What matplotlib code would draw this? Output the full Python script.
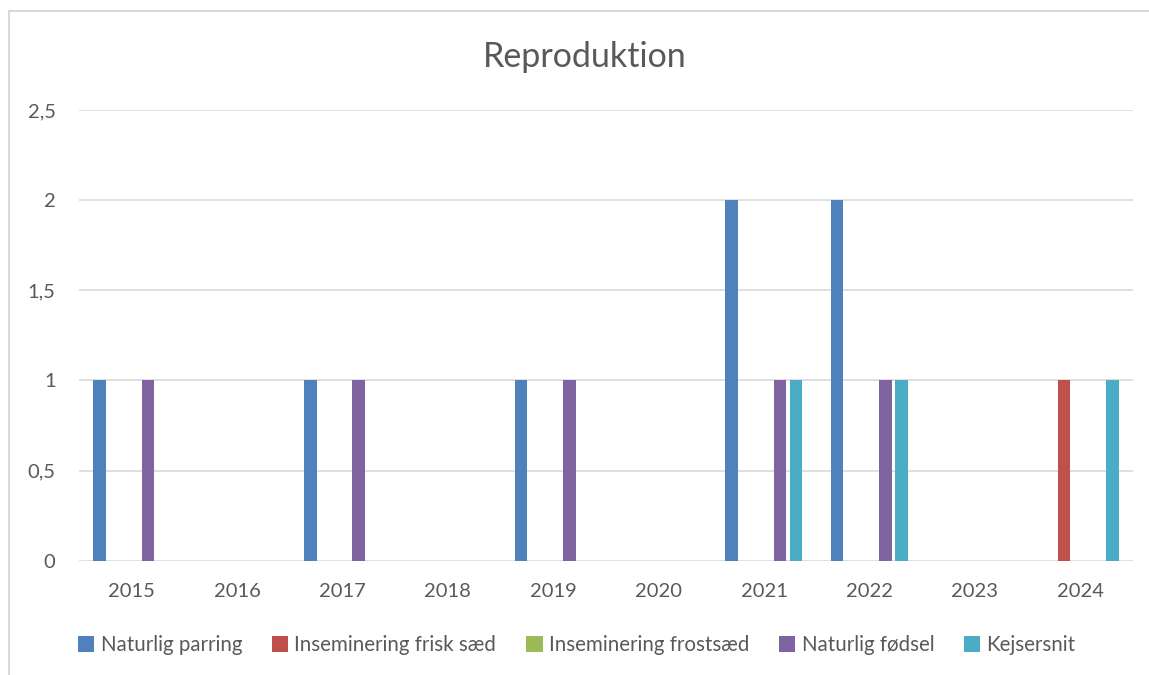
import matplotlib
matplotlib.use("Agg")
import matplotlib.pyplot as plt
from matplotlib.lines import Line2D
from matplotlib.patches import Patch
import numpy as np

plt.rcParams["font.family"] = ["Lato", "DejaVu Sans"]

# region data
aar = ["2015", "2016", "2017", "2018", "2019", "2020", "2021", "2022", "2023", "2024"]
serier = ["Naturlig parring", "Inseminering frisk sæd", "Inseminering frostsæd",
          "Naturlig fødsel", "Kejsersnit"]
naturlig_parring = [1, 0, 1, 0, 1, 0, 2, 2, 0, 0]
inseminering_frisk = [0, 0, 0, 0, 0, 0, 0, 0, 0, 1]
inseminering_frost = [0, 0, 0, 0, 0, 0, 0, 0, 0, 0]
naturlig_foedsel = [1, 0, 1, 0, 1, 0, 1, 1, 0, 0]
kejsersnit = [0, 0, 0, 0, 0, 0, 1, 1, 0, 1]
farver = ["#4F81BD", "#C0504D", "#9BBB59", "#8064A2", "#4BACC6"]
y_ticks = [0, 0.5, 1, 1.5, 2, 2.5]
y_labels = ["0", "0,5", "1", "1,5", "2", "2,5"]
# endregion

tekst = "#595959"
gitter = "#D9D9D9"

fig = plt.figure(figsize=(11.49, 6.75), dpi=100)
ax = fig.add_axes([0.0689, 0.1693, 0.9169, 0.6677])

x = np.arange(len(aar))
slot = 0.1528
bredde = 0.1205
alle = [naturlig_parring, inseminering_frisk, inseminering_frost,
        naturlig_foedsel, kejsersnit]
for k, (navn, vals, farve) in enumerate(zip(serier, alle, farver)):
    ax.bar(x + (k - 2) * slot, vals, width=bredde, color=farve, zorder=3,
           label=navn)

ax.set_xlim(-0.5, len(aar) - 0.5)
ax.set_ylim(0, 2.5)
ax.set_yticks(y_ticks)
ax.set_yticklabels(y_labels)
ax.set_xticks(x)
ax.set_xticklabels(aar)
ax.tick_params(length=0, labelsize=14.5, labelcolor=tekst)
ax.tick_params(axis="y", pad=17)
ax.tick_params(axis="x", pad=16)
ax.grid(axis="y", color=gitter, linewidth=1.2, zorder=0)
for s in ax.spines.values():
    s.set_visible(False)

fig.text(0.509, 0.915, "Reproduktion", ha="center", va="center",
         fontsize=24.5, color=tekst)

handles = [Patch(facecolor=f, edgecolor="none") for f in farver]
fig.legend(handles, serier, loc="center", bbox_to_anchor=(0.502, 0.044),
           ncol=5, frameon=False, fontsize=14.8, labelcolor=tekst,
           handlelength=0.8, handleheight=0.8, handletextpad=0.3,
           columnspacing=1.45)

# Rahmen (nur oben und links sichtbar)
fig.add_artist(Line2D([9 / 1149, 1], [1 - 11 / 675, 1 - 11 / 675],
                      transform=fig.transFigure, color="#D9D9D9", linewidth=1.5))
fig.add_artist(Line2D([9 / 1149, 9 / 1149], [0, 1 - 11 / 675],
                      transform=fig.transFigure, color="#D9D9D9", linewidth=1.5))

fig.savefig("out.png", dpi=100)
